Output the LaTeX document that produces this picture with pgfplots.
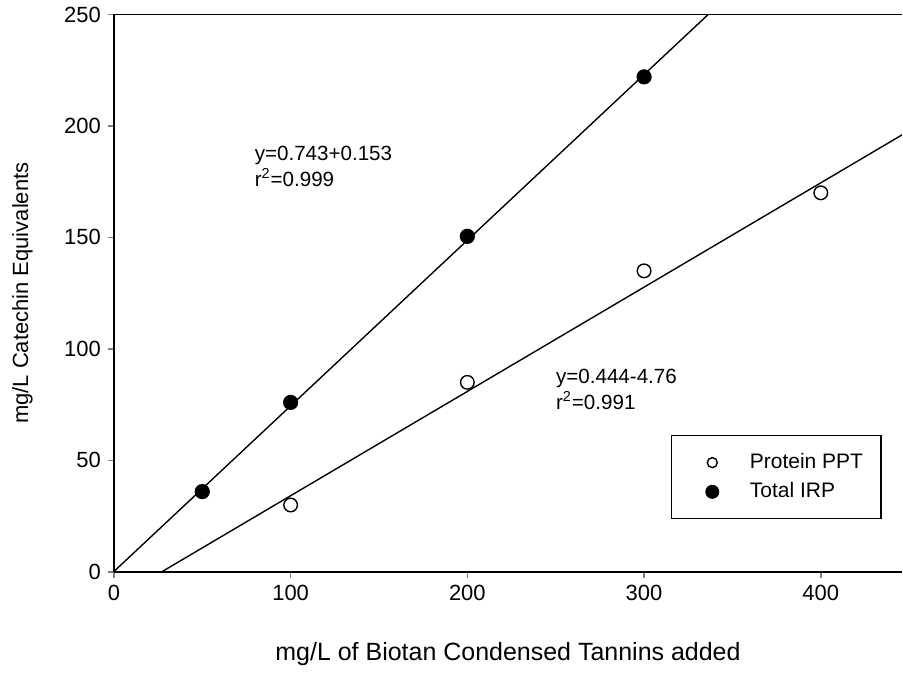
\documentclass[border=0pt]{standalone}
\usepackage{fontspec}
\setmainfont{Liberation Sans}
\usepackage{pgfplots}
\pgfplotsset{compat=1.18}

\begin{document}
\begin{tikzpicture}
\begin{axis}[
    scale only axis,
    width=394.5pt, height=279pt,
    xmin=0, xmax=446, ymin=0, ymax=250,
    axis x line=box, axis y line=left,
    axis line style={-, line width=0.9pt},
    xtick={0,100,200,300,400}, ytick={0,50,100,150,200,250},
    xtick pos=bottom, ytick pos=left,
    tick align=outside, major tick length=3pt,
    tick style={line width=0.7pt},
    /pgf/number format/assume math mode=true,
    ticklabel style={font=\fontsize{11}{13}\selectfont},
    xlabel style={font=\fontsize{12.5}{14}\selectfont,
        at={(axis description cs:0.5,-0.148)}, anchor=center},
    ylabel style={font=\fontsize{11}{13}\selectfont,
        at={(axis description cs:-0.116,0.5)}, anchor=center},
    xlabel={mg/L of Biotan Condensed Tannins added},
    ylabel={mg/L Catechin Equivalents},
    clip=true,
    legend image code/.code={%
        \path (0.14cm,0cm) (0.9cm,0cm);
        \draw[mark repeat=2,mark phase=2,#1] plot coordinates {(0.3cm,0cm) (0.6cm,0cm) (0.9cm,0cm)};},
    legend style={at={(axis description cs:0.974,0.094)}, anchor=south east,
        font=\fontsize{10.5}{12}\selectfont, draw=black, line width=0.6pt,
        inner xsep=7pt, inner ysep=7pt, row sep=1.5pt,
        legend cell align=left},
]
\addplot[only marks, mark=o, mark size=3.4pt, mark options={line width=0.7pt}, black,
    legend image post style={mark size=2.5pt}]
    coordinates {(100,30) (200,85) (300,135) (400,170)};
\addlegendentry{\hspace*{8pt}Protein PPT}
\addplot[only marks, mark=*, mark size=3.6pt, black,
    legend image post style={mark size=3.2pt}]
    coordinates {(50,36) (100,76) (200,150.5) (300,222)};
\addlegendentry{\hspace*{8pt}Total IRP}
\addplot[black, line width=0.7pt, forget plot] coordinates {(0,0.153) (336.3,250)};
\addplot[black, line width=0.7pt, forget plot] coordinates {(27,0) (446,196)};
\node[anchor=west, align=left, font=\fontsize{10.3}{13}\selectfont, inner sep=0pt]
    at (axis cs:79.5,182) {y=0.743+0.153\\r\textsuperscript{2}=0.999};
\node[anchor=west, align=left, font=\fontsize{10.3}{13}\selectfont, inner sep=0pt]
    at (axis cs:250,82) {y=0.444-4.76\\r\textsuperscript{2}=0.991};
\end{axis}
\path (current axis.south west) ++(-57pt,0pt);
\end{tikzpicture}
\end{document}
